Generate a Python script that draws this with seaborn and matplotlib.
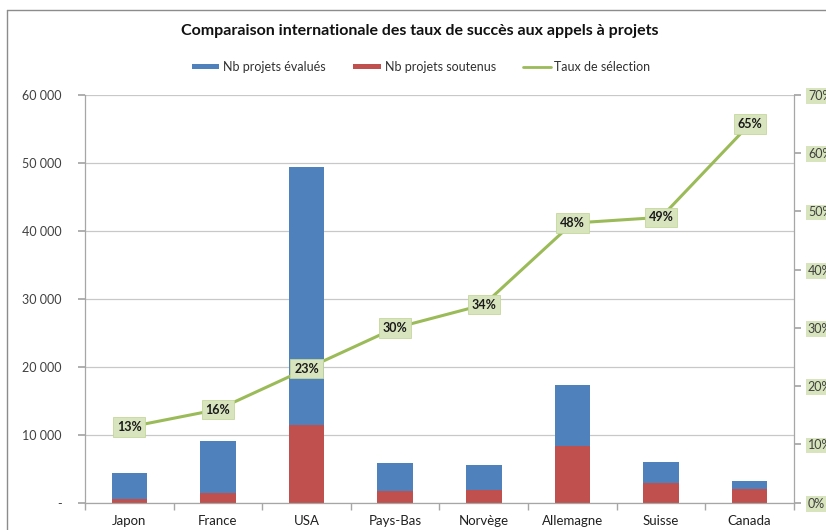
import numpy as np
import pandas as pd
import matplotlib
matplotlib.use("Agg")
import matplotlib.pyplot as plt
import seaborn as sns
from matplotlib.lines import Line2D
from matplotlib.patches import Patch
from matplotlib.ticker import FuncFormatter

pays = ["Japon", "France", "USA", "Pays-Bas", "Norvège", "Allemagne", "Suisse", "Canada"]
evalues = [4400, 9100, 49400, 5800, 5600, 17300, 6000, 3200]
soutenus = [550, 1500, 11400, 1750, 1900, 8300, 2900, 2050]
taux = [13, 16, 23, 30, 34, 48, 49, 65]
titre = "Comparaison internationale des taux de succès aux appels à projets"
noms = ["Nb projets évalués", "Nb projets soutenus", "Taux de sélection"]

sns.set_theme(style="white")
plt.rcParams['font.family'] = ['Lato', 'DejaVu Sans']

BLUE = "#4F81BD"
RED = "#C0504D"
GREEN = "#9BBB59"
LABBG = "#D7E4BD"

df = pd.DataFrame({"pays": pays, "evalues": evalues, "soutenus": soutenus, "taux": taux})

fig = plt.figure(figsize=(8.26, 5.30), dpi=100)
ax = fig.add_axes([85/826, 1-502.7/530, (794-85)/826, (502.7-95)/530])

sns.barplot(data=df, x="pays", y="evalues", order=pays, color=BLUE, width=0.4,
            saturation=1, ax=ax, errorbar=None, linewidth=0, edgecolor="none")
sns.barplot(data=df, x="pays", y="soutenus", order=pays, color=RED, width=0.4,
            saturation=1, ax=ax, errorbar=None, linewidth=0, edgecolor="none")

ax.set_ylim(0, 60000)
ax.set_xlim(-0.5, len(pays) - 0.5)
ax.set_yticks(np.arange(0, 60001, 10000))
ax.yaxis.set_major_formatter(FuncFormatter(lambda v, p: "-" if v == 0 else f"{int(v):,}".replace(",", " ")))
ax.grid(axis="y", color="#C8C8C8", linewidth=0.9)
ax.set_axisbelow(True)
ax.set_xlabel("")
ax.set_ylabel("")
for s in ["top", "right"]:
    ax.spines[s].set_visible(False)
for s in ["left", "bottom"]:
    ax.spines[s].set_color("#A6A6A6")
    ax.spines[s].set_linewidth(0.9)
ax.tick_params(axis="y", left=True, length=5, color="#A6A6A6", labelsize=9, labelcolor="#404040", pad=12)
ax.tick_params(axis="x", bottom=False, labelsize=9.5, labelcolor="#202020", pad=3)
ax.set_xticks(np.arange(-0.5, len(pays), 1.0), minor=True)
ax.tick_params(axis="x", which="minor", bottom=True, length=5, color="#A6A6A6", direction="out")

ax2 = ax.twinx()
sns.lineplot(x=np.arange(len(pays)), y=df["taux"], color=GREEN, linewidth=2.2, ax=ax2)
ax2.set_ylim(0, 70)
ax2.set_yticks(np.arange(0, 71, 10))
ax2.yaxis.set_major_formatter(FuncFormatter(lambda v, p: f"{int(v)}%"))
ax2.set_ylabel("")
for s in ["top", "left", "bottom"]:
    ax2.spines[s].set_visible(False)
ax2.spines["right"].set_color("#A6A6A6")
ax2.spines["right"].set_linewidth(0.9)
ax2.tick_params(axis="y", right=True, length=5, color="#A6A6A6", labelsize=9, labelcolor="#404040", pad=5)
for lab in ax2.get_yticklabels():
    lab.set_bbox(dict(boxstyle="square,pad=0.15", facecolor=LABBG, edgecolor="none"))
ax2.set_xlim(-0.5, len(pays) - 0.5)

for i, t in enumerate(taux):
    ax2.text(i, t, f"{t}%", ha="center", va="center", fontsize=9, fontweight="bold",
             color="#1A1A1A",
             bbox=dict(boxstyle="square,pad=0.3", facecolor=LABBG, edgecolor="#C4D79B", linewidth=0.6))

fig.text(0.5 + 0.008, 1 - 31/530, titre, ha="center", va="center", fontsize=11.5, fontweight="bold", color="#111111")

handles = [Patch(facecolor=BLUE, edgecolor="none"), Patch(facecolor=RED, edgecolor="none"),
           Line2D([0], [0], color=GREEN, linewidth=2)]
leg = fig.legend(handles, noms, loc="center", bbox_to_anchor=(0.51, 1 - 67/530), ncol=3,
                 frameon=False, fontsize=9, handlelength=2.2, handleheight=0.35,
                 columnspacing=2.2, handletextpad=0.3)
for t in leg.get_texts():
    t.set_color("#303030")

fig.add_artist(Line2D([7/826, 7/826], [0, 1 - 10/530], transform=fig.transFigure, color="#8C8C8C", linewidth=1))
fig.add_artist(Line2D([7/826, 1], [1 - 10/530, 1 - 10/530], transform=fig.transFigure, color="#8C8C8C", linewidth=1))

fig.savefig("out.png", dpi=100)
